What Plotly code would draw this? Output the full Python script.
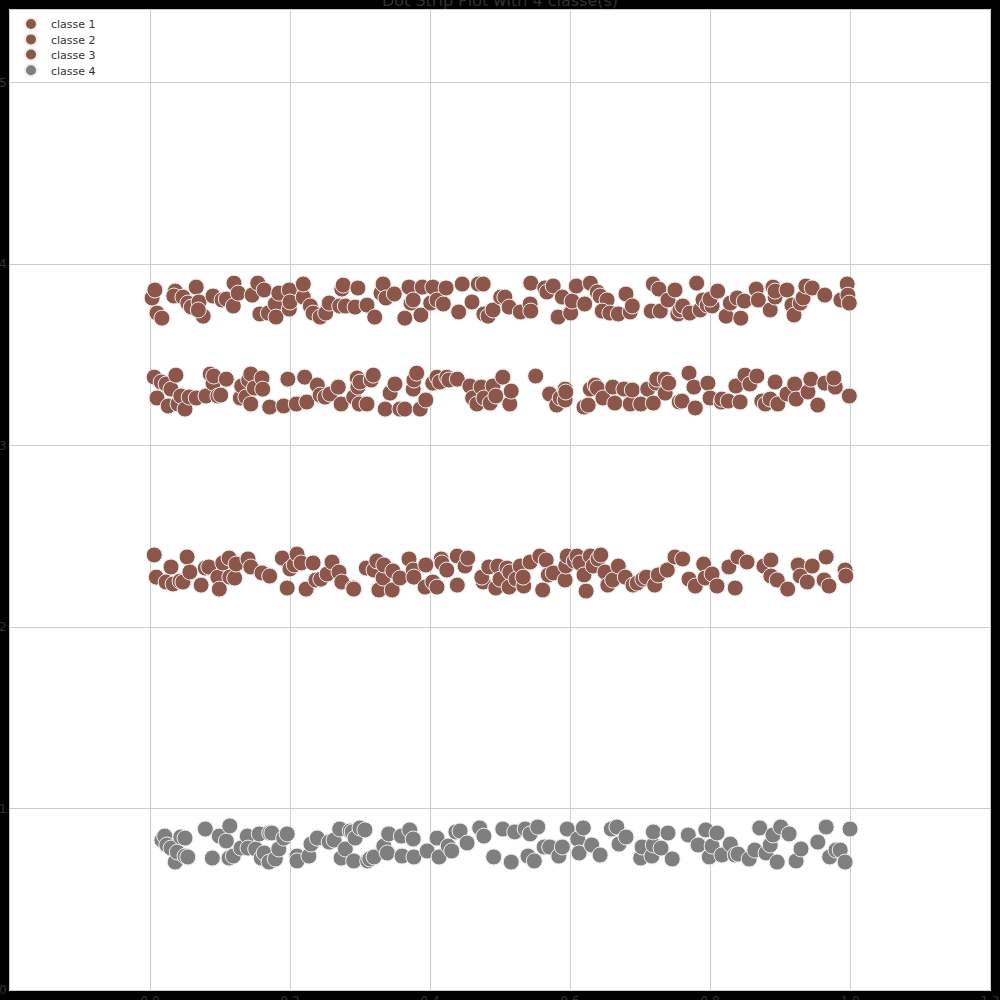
import plotly.graph_objects as go

# Data (x in [0,1], y = class position with jitter)
classe1 = [
    (0.003, 3.813), (0.007, 3.857), (0.010, 3.730), (0.017, 3.702), (0.036, 3.851), (0.034, 3.824),
    (0.047, 3.818), (0.054, 3.785), (0.059, 3.763), (0.066, 3.873), (0.070, 3.791), (0.076, 3.713),
    (0.069, 3.747), (0.090, 3.824), (0.103, 3.802), (0.109, 3.807), (0.120, 3.895), (0.119, 3.769),
    (0.126, 3.840), (0.146, 3.829), (0.154, 3.895), (0.157, 3.725), (0.163, 3.857), (0.169, 3.730),
    (0.179, 3.780), (0.180, 3.708), (0.184, 3.840), (0.199, 3.857), (0.199, 3.752), (0.200, 3.791),
    (0.219, 3.818), (0.219, 3.890), (0.229, 3.769), (0.233, 3.730), (0.243, 3.708), (0.251, 3.730),
    (0.256, 3.785), (0.271, 3.769), (0.274, 3.862), (0.276, 3.884), (0.279, 3.769), (0.293, 3.763),
    (0.297, 3.868), (0.310, 3.774), (0.321, 3.708), (0.330, 3.840), (0.333, 3.890), (0.337, 3.813),
    (0.349, 3.835), (0.364, 3.702), (0.370, 3.873), (0.373, 3.785), (0.376, 3.802), (0.387, 3.719),
    (0.389, 3.873), (0.401, 3.785), (0.404, 3.873), (0.410, 3.802), (0.419, 3.780), (0.423, 3.868),
    (0.441, 3.736), (0.446, 3.890), (0.460, 3.791), (0.469, 3.890), (0.476, 3.890), (0.477, 3.725),
    (0.483, 3.713), (0.490, 3.747), (0.501, 3.818), (0.507, 3.818), (0.513, 3.763), (0.529, 3.736),
    (0.543, 3.780), (0.544, 3.895), (0.544, 3.741), (0.564, 3.868), (0.567, 3.846), (0.576, 3.879),
    (0.583, 3.708), (0.589, 3.818), (0.601, 3.730), (0.603, 3.796), (0.609, 3.879), (0.621, 3.780),
    (0.629, 3.895), (0.639, 3.846), (0.643, 3.824), (0.653, 3.802), (0.646, 3.741), (0.657, 3.730),
    (0.669, 3.725), (0.680, 3.835), (0.686, 3.736), (0.689, 3.769), (0.716, 3.741), (0.719, 3.890),
    (0.727, 3.862), (0.729, 3.741), (0.740, 3.802), (0.750, 3.857), (0.754, 3.725), (0.757, 3.747),
    (0.761, 3.769), (0.771, 3.730), (0.781, 3.895), (0.786, 3.747), (0.790, 3.802), (0.796, 3.774),
    (0.803, 3.769), (0.800, 3.807), (0.811, 3.851), (0.823, 3.713), (0.829, 3.785), (0.839, 3.813),
    (0.844, 3.702), (0.849, 3.796), (0.866, 3.862), (0.869, 3.802), (0.886, 3.747), (0.890, 3.873),
    (0.893, 3.818), (0.893, 3.851), (0.910, 3.857), (0.917, 3.774), (0.920, 3.719), (0.929, 3.785),
    (0.933, 3.813), (0.937, 3.879), (0.946, 3.868), (0.964, 3.829), (0.987, 3.802), (0.996, 3.890),
    (0.997, 3.829), (0.999, 3.785),
]

classe2 = [
    (0.006, 3.377), (0.010, 3.262), (0.016, 3.350), (0.023, 3.339), (0.026, 3.218), (0.030, 3.311),
    (0.037, 3.388), (0.040, 3.229), (0.044, 3.273), (0.050, 3.201), (0.056, 3.267), (0.066, 3.262),
    (0.080, 3.273), (0.086, 3.394), (0.090, 3.344), (0.091, 3.383), (0.097, 3.273), (0.101, 3.278),
    (0.109, 3.366), (0.129, 3.262), (0.131, 3.328), (0.137, 3.267), (0.141, 3.361), (0.144, 3.394),
    (0.149, 3.317), (0.144, 3.229), (0.160, 3.372), (0.161, 3.311), (0.171, 3.212), (0.191, 3.218),
    (0.197, 3.366), (0.209, 3.229), (0.221, 3.377), (0.224, 3.240), (0.239, 3.333), (0.243, 3.278),
    (0.250, 3.267), (0.257, 3.284), (0.269, 3.322), (0.273, 3.229), (0.291, 3.267), (0.296, 3.372),
    (0.297, 3.322), (0.300, 3.350), (0.299, 3.229), (0.310, 3.229), (0.316, 3.361), (0.319, 3.388),
    (0.336, 3.201), (0.343, 3.289), (0.350, 3.339), (0.357, 3.201), (0.364, 3.201), (0.376, 3.311),
    (0.377, 3.361), (0.381, 3.399), (0.386, 3.201), (0.394, 3.251), (0.404, 3.344), (0.410, 3.377),
    (0.414, 3.350), (0.424, 3.377), (0.427, 3.361), (0.439, 3.366), (0.457, 3.328), (0.461, 3.262),
    (0.467, 3.229), (0.473, 3.322), (0.477, 3.262), (0.490, 3.328), (0.486, 3.234), (0.494, 3.273),
    (0.504, 3.377), (0.514, 3.229), (0.516, 3.300), (0.551, 3.383), (0.571, 3.284), (0.581, 3.223),
    (0.586, 3.262), (0.593, 3.251), (0.593, 3.311), (0.594, 3.295), (0.620, 3.212), (0.626, 3.223),
    (0.629, 3.311), (0.636, 3.333), (0.639, 3.317), (0.647, 3.262), (0.661, 3.322), (0.664, 3.234),
    (0.677, 3.311), (0.686, 3.229), (0.689, 3.306), (0.701, 3.229), (0.711, 3.311), (0.719, 3.234),
    (0.723, 3.344), (0.724, 3.366), (0.736, 3.289), (0.736, 3.366), (0.741, 3.344), (0.756, 3.240),
    (0.760, 3.245), (0.770, 3.399), (0.777, 3.322), (0.779, 3.207), (0.797, 3.344), (0.800, 3.262),
    (0.816, 3.240), (0.817, 3.256), (0.826, 3.245), (0.837, 3.328), (0.843, 3.240), (0.850, 3.388),
    (0.857, 3.339), (0.867, 3.383), (0.874, 3.245), (0.879, 3.229), (0.886, 3.256), (0.893, 3.350),
    (0.897, 3.229), (0.910, 3.284), (0.921, 3.339), (0.923, 3.256), (0.940, 3.295), (0.944, 3.366),
    (0.954, 3.223), (0.964, 3.344), (0.979, 3.322), (0.977, 3.372), (0.999, 3.273),
]

classe3 = [
    (0.006, 2.397), (0.009, 2.275), (0.023, 2.248), (0.030, 2.331), (0.033, 2.237), (0.043, 2.253),
    (0.047, 2.248), (0.053, 2.386), (0.057, 2.303), (0.073, 2.231), (0.079, 2.325), (0.084, 2.331),
    (0.097, 2.275), (0.099, 2.209), (0.104, 2.353), (0.113, 2.380), (0.114, 2.275), (0.121, 2.270),
    (0.123, 2.347), (0.140, 2.375), (0.144, 2.331), (0.160, 2.298), (0.171, 2.281), (0.189, 2.380),
    (0.196, 2.215), (0.200, 2.320), (0.206, 2.342), (0.210, 2.402), (0.216, 2.353), (0.223, 2.209),
    (0.233, 2.353), (0.237, 2.259), (0.244, 2.264), (0.253, 2.292), (0.260, 2.358), (0.270, 2.303),
    (0.274, 2.248), (0.290, 2.215), (0.291, 2.209), (0.309, 2.325), (0.320, 2.314), (0.324, 2.364),
    (0.327, 2.204), (0.333, 2.270), (0.334, 2.342), (0.346, 2.204), (0.347, 2.309), (0.357, 2.270),
    (0.370, 2.375), (0.376, 2.314), (0.377, 2.275), (0.393, 2.220), (0.394, 2.342), (0.404, 2.248),
    (0.410, 2.220), (0.416, 2.375), (0.417, 2.353), (0.424, 2.314), (0.439, 2.231), (0.439, 2.391),
    (0.450, 2.336), (0.454, 2.380), (0.476, 2.248), (0.474, 2.275), (0.484, 2.331), (0.494, 2.215),
    (0.497, 2.336), (0.500, 2.264), (0.510, 2.325), (0.513, 2.220), (0.514, 2.303), (0.523, 2.264),
    (0.529, 2.336), (0.534, 2.226), (0.533, 2.275), (0.543, 2.358), (0.557, 2.391), (0.561, 2.204),
    (0.566, 2.369), (0.569, 2.287), (0.576, 2.298), (0.593, 2.259), (0.594, 2.336), (0.596, 2.391),
    (0.606, 2.364), (0.610, 2.391), (0.614, 2.353), (0.620, 2.287), (0.623, 2.198), (0.629, 2.391),
    (0.633, 2.336), (0.640, 2.375), (0.644, 2.397), (0.650, 2.303), (0.654, 2.231), (0.661, 2.259),
    (0.669, 2.336), (0.679, 2.275), (0.690, 2.231), (0.696, 2.242), (0.704, 2.264), (0.709, 2.275),
    (0.721, 2.231), (0.726, 2.287), (0.739, 2.314), (0.750, 2.386), (0.761, 2.375), (0.770, 2.264),
    (0.779, 2.226), (0.791, 2.347), (0.793, 2.270), (0.803, 2.292), (0.810, 2.226), (0.827, 2.331),
    (0.836, 2.215), (0.840, 2.386), (0.853, 2.358), (0.877, 2.336), (0.887, 2.369), (0.887, 2.281),
    (0.896, 2.259), (0.911, 2.209), (0.926, 2.342), (0.929, 2.281), (0.939, 2.248), (0.946, 2.336),
    (0.963, 2.259), (0.966, 2.386), (0.970, 2.226), (0.993, 2.314), (0.994, 2.281),
]

classe4 = [
    (0.017, 0.826), (0.021, 0.848), (0.024, 0.799), (0.030, 0.782), (0.036, 0.705), (0.039, 0.760),
    (0.044, 0.843), (0.050, 0.837), (0.050, 0.738), (0.054, 0.733), (0.079, 0.887), (0.089, 0.727),
    (0.099, 0.848), (0.109, 0.821), (0.113, 0.727), (0.114, 0.904), (0.119, 0.738), (0.130, 0.782),
    (0.139, 0.848), (0.140, 0.782), (0.151, 0.777), (0.156, 0.860), (0.159, 0.727), (0.163, 0.755),
    (0.170, 0.705), (0.171, 0.865), (0.174, 0.865), (0.179, 0.722), (0.184, 0.777), (0.191, 0.837),
    (0.196, 0.860), (0.210, 0.738), (0.210, 0.711), (0.227, 0.738), (0.230, 0.804), (0.239, 0.837),
    (0.256, 0.815), (0.263, 0.826), (0.271, 0.887), (0.273, 0.727), (0.279, 0.777), (0.286, 0.876),
    (0.289, 0.871), (0.293, 0.837), (0.291, 0.711), (0.300, 0.893), (0.307, 0.882), (0.311, 0.711),
    (0.314, 0.722), (0.320, 0.733), (0.334, 0.793), (0.339, 0.755), (0.341, 0.860), (0.359, 0.848),
    (0.360, 0.738), (0.371, 0.882), (0.376, 0.832), (0.377, 0.733), (0.396, 0.766), (0.410, 0.837),
    (0.413, 0.733), (0.426, 0.793), (0.431, 0.766), (0.437, 0.871), (0.443, 0.876), (0.453, 0.810),
    (0.471, 0.893), (0.477, 0.848), (0.491, 0.733), (0.504, 0.887), (0.516, 0.705), (0.521, 0.871),
    (0.536, 0.887), (0.540, 0.738), (0.543, 0.860), (0.549, 0.711), (0.554, 0.898), (0.563, 0.788),
    (0.571, 0.788), (0.584, 0.738), (0.589, 0.788), (0.596, 0.887), (0.611, 0.832), (0.613, 0.755),
    (0.619, 0.893), (0.631, 0.799), (0.643, 0.744), (0.659, 0.887), (0.667, 0.898), (0.670, 0.804),
    (0.680, 0.843), (0.701, 0.727), (0.703, 0.788), (0.717, 0.738), (0.719, 0.799), (0.719, 0.871),
    (0.730, 0.782), (0.740, 0.865), (0.746, 0.722), (0.769, 0.854), (0.783, 0.799), (0.794, 0.882),
    (0.799, 0.733), (0.803, 0.793), (0.810, 0.865), (0.817, 0.744), (0.829, 0.804), (0.836, 0.744),
    (0.840, 0.749), (0.856, 0.722), (0.864, 0.771), (0.871, 0.893), (0.880, 0.755), (0.886, 0.799),
    (0.890, 0.854), (0.896, 0.705), (0.901, 0.898), (0.913, 0.860), (0.923, 0.711), (0.930, 0.777),
    (0.954, 0.815), (0.966, 0.898), (0.971, 0.733), (0.980, 0.771), (0.986, 0.771), (0.993, 0.705),
    (1.000, 0.887),
]

class_names = ["classe 1", "classe 2", "classe 3", "classe 4"]
class_data = [classe1, classe2, classe3, classe4]
class_colors = ["#8c564b", "#8c564b", "#8c564b", "#7f7f7f"]

x_ticks = [-0.2, 0.0, 0.2, 0.4, 0.6, 0.8, 1.0, 1.2]
y_ticks = [0, 1, 2, 3, 4, 5]

# one small legend per class so the entries sit as tightly as in the reference
legend_ids = ["legend", "legend2", "legend3", "legend4"]
legend_y = [0.9857, 0.9700, 0.9546, 0.9385]

fig = go.Figure()
for name, pts, col, lid in zip(class_names, class_data, class_colors, legend_ids):
    xs = [p[0] for p in pts]
    ys = [p[1] for p in pts]
    fig.add_trace(go.Scatter(
        x=xs, y=ys, mode="markers", name=name, legend=lid,
        marker=dict(size=16, color=col, line=dict(width=1, color="#eeeeee")),
    ))

legend_common = dict(x=0.001, xanchor="left", yanchor="middle",
                     bgcolor="rgba(255,255,255,0)", borderwidth=0,
                     font=dict(size=11, color="#333333", family="DejaVu Sans"),
                     itemsizing="constant")
legend_layout = {lid: dict(y=ly, **legend_common) for lid, ly in zip(legend_ids, legend_y)}

fig.update_layout(
    width=1000, height=1000,
    paper_bgcolor="black", plot_bgcolor="white",
    margin=dict(l=10, r=10, t=10, b=10),
    font=dict(family="DejaVu Sans", color="#333333", size=12),
    title=dict(text="Dot Strip Plot with 4 classe(s)", x=0.5, xanchor="center",
               y=1.0, yref="container", yanchor="middle",
               font=dict(size=16, color="#333333", family="DejaVu Sans")),
    showlegend=True,
    **legend_layout,
)
fig.update_xaxes(range=[-0.2, 1.2], tickvals=x_ticks, tickformat=".1f",
                 showgrid=True, gridcolor="#cccccc", gridwidth=1, zeroline=False,
                 showline=True, linecolor="#cccccc", mirror=True, automargin=False,
                 tickfont=dict(color="#333333", size=12))
fig.update_yaxes(range=[0, 5.4], tickvals=y_ticks,
                 showgrid=True, gridcolor="#cccccc", gridwidth=1, zeroline=False,
                 showline=True, linecolor="#cccccc", mirror=True, automargin=False,
                 tickfont=dict(color="#333333", size=12))

fig.write_html(
    "out.html",
    config={"displayModeBar": False},
    post_script="document.body.style.margin='0';document.body.style.background='black';",
)
